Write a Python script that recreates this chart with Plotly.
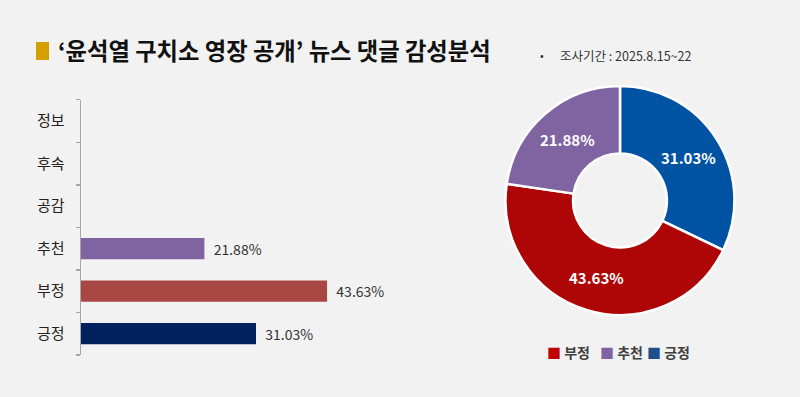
import plotly.graph_objects as go

# ---- data ----
bar_categories = ["긍정", "부정", "추천", "공감", "후속", "정보"]
bar_values = [31.03, 43.63, 21.88, 0, 0, 0]
bar_colors = ["#00215E", "#A94744", "#8064A2", "#8064A2", "#8064A2", "#8064A2"]

pie_labels = ["긍정", "부정", "추천"]
pie_values = [31.03, 43.63, 21.88]
pie_colors = ["#0053A3", "#AE0606", "#8064A2"]

legend_labels = ["부정", "추천", "긍정"]
legend_colors = ["#C00000", "#8064A2", "#1F4E8C"]

title_text = "‘윤석열 구치소 영장 공개’ 뉴스 댓글 감성분석"
period_text = "조사기간 : 2025.8.15~22"

W, H = 800, 397
FONT = "Noto Sans CJK KR"

def px_x(x):
    return x / W

def px_y(y):
    return 1 - y / H

fig = go.Figure()

bar_text = [f"  {v:.2f}%" if v > 0 else "" for v in bar_values]
fig.add_trace(go.Bar(
    y=bar_categories, x=bar_values, orientation="h",
    marker=dict(color=bar_colors, line=dict(width=0)),
    text=bar_text, textposition="outside", cliponaxis=False,
    textfont=dict(family=FONT, size=14, color="#333333"),
    width=0.5, showlegend=False, hoverinfo="skip",
))

fig.add_trace(go.Pie(
    labels=pie_labels, values=pie_values, sort=False, direction="clockwise",
    rotation=0, hole=0.41,
    marker=dict(colors=pie_colors, line=dict(color="white", width=2.5)),
    text=[f"{v:.2f}%" for v in pie_values], textinfo="text",
    textposition="inside", insidetextorientation="horizontal",
    textfont=dict(family=FONT, size=15, color="white", weight="bold"),
    domain=dict(x=[px_x(505), px_x(735)], y=[px_y(315), px_y(86)]),
    showlegend=False, hoverinfo="skip",
))

fig.update_layout(
    width=W, height=H,
    margin=dict(l=0, r=0, t=0, b=0),
    paper_bgcolor="#F2F2F2", plot_bgcolor="#F2F2F2",
    font=dict(family=FONT, color="#222222"),
    xaxis=dict(domain=[px_x(81), px_x(363)], range=[0, 50], visible=False,
               fixedrange=True),
    yaxis=dict(domain=[px_y(355), px_y(99.7)], type="category",
               categoryorder="array", categoryarray=bar_categories,
               showline=True, linecolor="#A6A6A6", linewidth=1.5,
               ticks="outside", ticklen=4, tickcolor="#A6A6A6", tickwidth=1.5,
               tickson="boundaries", showgrid=False, zeroline=False,
               tickfont=dict(family=FONT, size=15, color="#222222"),
               ticklabelstandoff=12, fixedrange=True),
    shapes=[dict(type="rect", xref="paper", yref="paper",
                 x0=px_x(36), x1=px_x(49), y0=px_y(60), y1=px_y(42),
                 fillcolor="#D4A000", line=dict(width=0))],
)

annotations = [
    dict(text=title_text, x=px_x(56), y=px_y(50), xref="paper", yref="paper",
         xanchor="left", yanchor="middle", showarrow=False,
         font=dict(family=FONT, size=23.3, color="#111111", weight="bold")),
    dict(text="•", x=px_x(542), y=px_y(55), xref="paper", yref="paper",
         xanchor="center", yanchor="middle", showarrow=False,
         font=dict(family=FONT, size=11, color="#333333")),
    dict(text=period_text, x=px_x(558), y=px_y(55), xref="paper", yref="paper",
         xanchor="left", yanchor="middle", showarrow=False,
         font=dict(family=FONT, size=12.5, color="#333333")),
]

leg_x = [545, 598, 645]
for lx, lab, col in zip(leg_x, legend_labels, legend_colors):
    annotations.append(dict(
        text=f"<span style='color:{col}'>■</span> {lab}",
        x=px_x(lx), y=px_y(352), xref="paper", yref="paper",
        xanchor="left", yanchor="middle", showarrow=False,
        font=dict(family=FONT, size=14, color="#404040", weight="bold")))

fig.update_layout(annotations=annotations)

fig.write_html("out.html",
               config={"displayModeBar": False, "staticPlot": True},
               post_script="document.body.style.margin='0';document.body.style.padding='0';")
